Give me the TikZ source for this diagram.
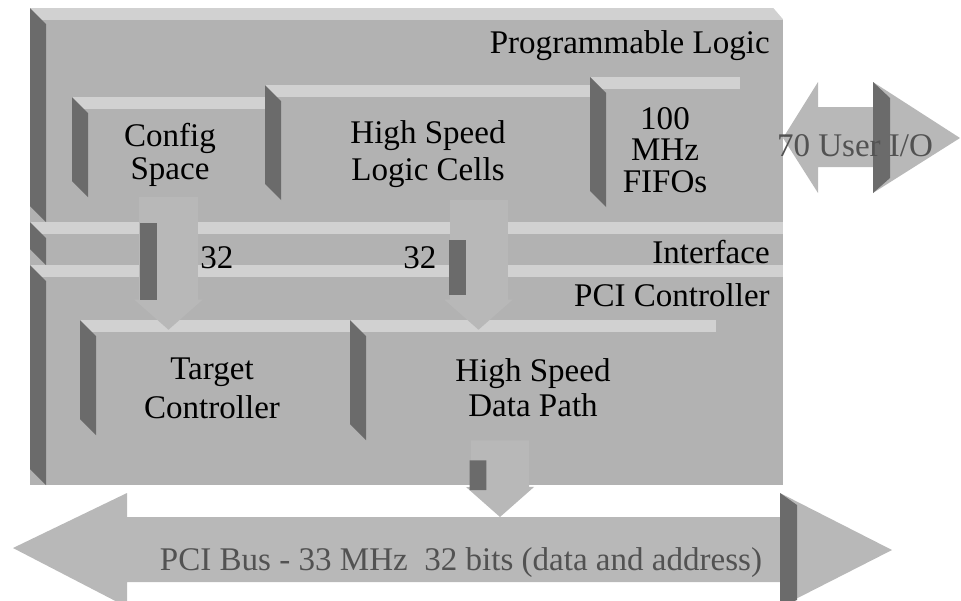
\documentclass[tikz,border=0pt]{standalone}
\usepackage{fontspec}
\setmainfont{Liberation Serif}
\usetikzlibrary{arrows.meta, fit, calc}

\definecolor{panelgray}{gray}{0.70}
\definecolor{shinegray}{gray}{0.82}
\definecolor{bevelgray}{gray}{0.42}
\definecolor{arrowgray}{gray}{0.72}
\definecolor{dimtext}{gray}{0.32}

\tikzset{
  raised/.style={rectangle, inner sep=0pt, fill=panelgray, path picture={
      \fill[shinegray] (path picture bounding box.north west) rectangle ([yshift=-0.3cm]path picture bounding box.north east);
      \fill[bevelgray] (path picture bounding box.north west) -- ([xshift=0.4cm,yshift=-0.4cm]path picture bounding box.north west)
        -- ([xshift=0.4cm]path picture bounding box.south west) -- ([yshift=0.4cm]path picture bounding box.south west) -- cycle;}},
  lbl/.style={font=\fontsize{23.5}{26}\selectfont, align=center, inner sep=0pt},
  fatarrow/.style={draw=arrowgray, line width=1.45cm, -{Triangle[length=0.75cm, width=1.7cm, line width=0pt]}},
  bevelline/.style={draw=bevelgray, line width=0.42cm},
  bigarrow/.style={fill=arrowgray},
}

\begin{document}
\begin{tikzpicture}[x=0.025cm, y=-0.025cm]
\useasboundingbox (0,0) rectangle (961,600);

% layers
\node[raised, fit={(30,8) (783,222)}] (pl) {};
\node[raised, fit={(30,222) (783,265)}] (ifc) {};
\node[raised, fit={(30,265) (783,485)}] (pcic) {};
\fill[white] ([xshift=-0.25cm]pl.north east) -- ([xshift=0.05cm]pl.north east) -- ([xshift=0.05cm,yshift=-0.35cm]pl.north east) -- cycle;

% blocks
\node[raised, fit={(72,97) (265,197)}] (cfg) {};
\node[raised, fit={(265,85) (590,200)}] (cells) {};
\node[raised, fit={(590,77) (740,207)}] (fifo) {};
\node[raised, fit={(80,320) (350,435)}] (tgt) {};
\node[raised, fit={(350,320) (716,440)}] (dpath) {};

% user i/o and bus arrows
\fill[bigarrow] (783,138) -- (818,82) -- (818,107) -- (873,107) -- (873,82) -- (960,138)
  -- (873,193) -- (873,167) -- (818,167) -- (818,193) -- cycle;
\fill[bevelgray] (873,82) -- (890,98) -- (890,178) -- (873,193) -- cycle;
\fill[bigarrow] (13,548) -- (127,493) -- (127,517) -- (780,517) -- (780,493) -- (892,550)
  -- (780,607) -- (780,582) -- (127,582) -- (127,607) -- cycle;
\fill[bevelgray] (780,493) -- (797,505) -- (797,600) -- (780,607) -- cycle;
\coordinate (bustop) at (500,517);

% connectors
\draw[fatarrow] (cfg.south) -- ([yshift=-0.25cm]cfg.south |- tgt.north);
\draw[bevelline] ([xshift=-0.5cm,yshift=-0.65cm]cfg.south) -- ([xshift=-0.5cm,yshift=0.5cm]cfg.south |- tgt.north);
\draw[fatarrow] ([xshift=1.275cm]cells.south) -- ([xshift=1.275cm,yshift=-0.25cm]cells.south |- dpath.north);
\draw[bevelline] ([xshift=0.75cm,yshift=-1cm]cells.south) -- ([xshift=0.75cm,yshift=0.625cm]cells.south |- dpath.north);
\draw[fatarrow] ([xshift=-0.825cm]dpath.south) -- (bustop);
\draw[bevelline] ([xshift=-1.375cm,yshift=-0.5cm]dpath.south) -- ([xshift=-0.55cm,yshift=0.675cm]bustop);

% texts
\node[lbl, anchor=base east] (pltxt) at (770,53) {Programmable Logic};
\node[lbl, anchor=base east] (ifctxt) at (770,263) {Interface};
\node[lbl, anchor=base east] (pcictxt) at (770,306) {PCI Controller};
\node[lbl, font=\fontsize{23.5}{23}\selectfont] (cfgtxt) at (170,155) {Config\\Space};
\node[lbl, font=\fontsize{23.5}{26.5}\selectfont] (cellstxt) at (428,154) {High Speed\\Logic Cells};
\node[lbl, font=\fontsize{23.5}{22.5}\selectfont] (fifotxt) at (665,150) {100\\MHz\\FIFOs};
\node[lbl, font=\fontsize{23.5}{27.5}\selectfont] (tgttxt) at (212,388) {Target\\Controller};
\node[lbl, font=\fontsize{23.5}{25}\selectfont] (dpathtxt) at (533,388) {High Speed\\Data Path};
\node[lbl, anchor=base west] (wa) at (200,268) {32};
\node[lbl, anchor=base west] (wb) at (403,268) {32};
\node[lbl, text=dimtext, anchor=base] (uiotxt) at (855,156) {70 User I/O};
\node[lbl, text=dimtext, anchor=base] (bustxt) at (461,570) {PCI Bus - 33 MHz~~32 bits (data and address)};
\end{tikzpicture}
\end{document}
